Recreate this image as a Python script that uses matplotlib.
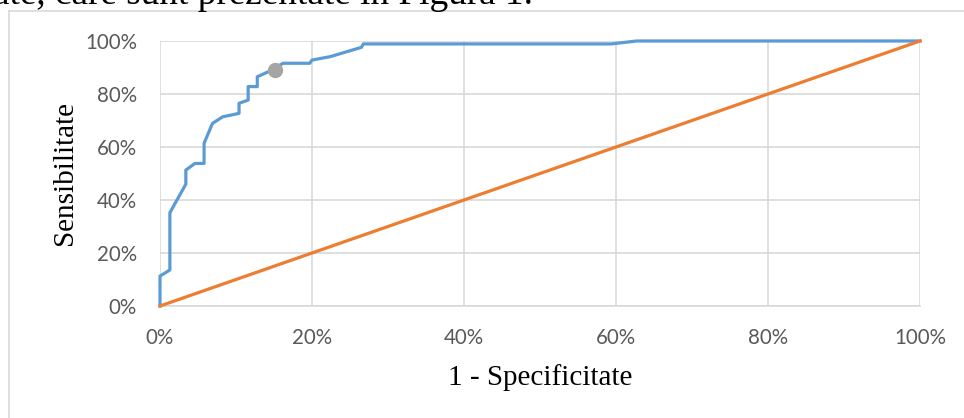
import matplotlib
matplotlib.use("Agg")
import matplotlib.pyplot as plt
from matplotlib.lines import Line2D
from matplotlib.ticker import FuncFormatter

# ---- data ----
fpr = [0, 0, 0.013, 0.013, 0.034, 0.034, 0.046, 0.058, 0.058, 0.069, 0.0825,
       0.104, 0.104, 0.116, 0.116, 0.128, 0.128, 0.1425, 0.162, 0.197, 0.2,
       0.224, 0.265, 0.2675, 0.594, 0.627, 1.0]
tpr = [0, 0.113, 0.136, 0.352, 0.46, 0.513, 0.538, 0.538, 0.614, 0.689, 0.714,
       0.727, 0.765, 0.777, 0.828, 0.828, 0.865, 0.884, 0.916, 0.916, 0.928,
       0.941, 0.976, 0.989, 0.989, 1.0, 1.0]
ref_x = [0, 1]
ref_y = [0, 1]
cut_x = [0.151]
cut_y = [0.89]
ticks = [0, 0.2, 0.4, 0.6, 0.8, 1.0]
xlabel = "1 - Specificitate"
ylabel = "Sensibilitate"
top_text = "ate, care sunt prezentate în Figura 1."

W, H = 964, 418
fig = plt.figure(figsize=(W / 100, H / 100), dpi=100)
ax = fig.add_axes([160 / W, 1 - 306 / H, 760 / W, 265 / H])

grid_c = "#D9D9D9"
ax.plot(fpr, tpr, color="#5B9BD5", lw=2.3, solid_joinstyle="round", zorder=3, clip_on=False)
ax.plot(ref_x, ref_y, color="#ED7D31", lw=2.3, zorder=4, clip_on=False)
ax.plot(cut_x, cut_y, "o", color="#A5A5A5", ms=10, mec="#A5A5A5", zorder=5, clip_on=False)

ax.set_xlim(0, 1)
ax.set_ylim(0, 1)
ax.set_xticks(ticks)
ax.set_yticks(ticks)
fmt = FuncFormatter(lambda v, p: f"{round(v * 100)}%")
ax.xaxis.set_major_formatter(fmt)
ax.yaxis.set_major_formatter(fmt)
ax.grid(True, color=grid_c, lw=1.2, zorder=0)
ax.set_axisbelow(True)
for s in ["top", "right", "left"]:
    ax.spines[s].set_visible(False)
ax.spines["bottom"].set_color(grid_c)
ax.spines["bottom"].set_linewidth(1.2)
ax.tick_params(length=0, labelsize=14.8, labelcolor="#595959")
ax.tick_params(axis="x", pad=16)
ax.tick_params(axis="y", pad=16.5)
for lab in ax.get_xticklabels() + ax.get_yticklabels():
    lab.set_fontfamily("Lato")

fig.text(540 / W, 1 - 378 / H, xlabel, ha="center", va="center",
         fontsize=21, family="Liberation Serif", color="black")
fig.text(65 / W, 1 - 173 / H, ylabel, ha="center", va="center", rotation=90,
         fontsize=21, family="Liberation Serif", color="black")

fig.text(-7 / W, 1 - 4 / H, top_text, ha="left", va="baseline",
         fontsize=26.8, family="Liberation Serif", color="black")

fig.add_artist(Line2D([9 / W, 9 / W], [1 - 11 / H, 0], transform=fig.transFigure,
                      color=grid_c, lw=1.2))
fig.add_artist(Line2D([9 / W, 1], [1 - 11 / H, 1 - 11 / H], transform=fig.transFigure,
                      color=grid_c, lw=1.2))

fig.savefig("out.png", dpi=100)
